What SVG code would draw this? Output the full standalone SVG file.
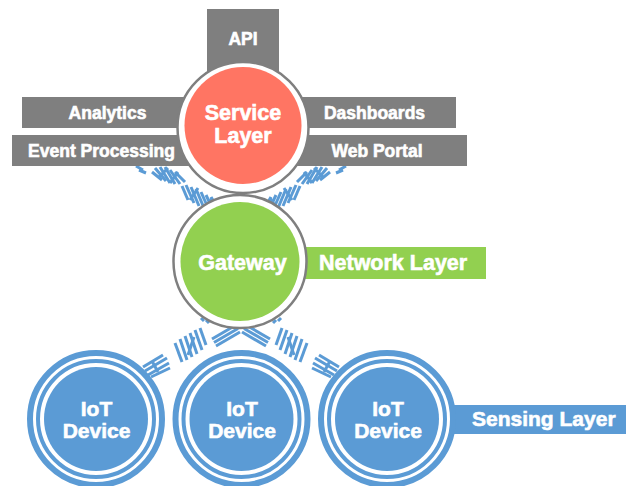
<svg xmlns="http://www.w3.org/2000/svg" width="626" height="486" viewBox="0 0 626 486">
<style>
  .t{font-family:"Liberation Sans",Arial,sans-serif;font-weight:bold;fill:#fff;stroke:#fff;stroke-width:0.6}
  .lbl{font-size:17.5px}
  .big{font-size:21.5px}
  .dev{font-size:21px}
  .box{fill:#7F7F7F}
  .ring{fill:#fff;stroke:#7F7F7F;stroke-width:2.5}
  .dOuter{fill:#fff;stroke:#5B9BD5;stroke-width:6}
  .dInner{fill:none;stroke:#5B9BD5;stroke-width:4}
  .dCore{fill:#5B9BD5}
</style>
<defs>
  <g id="hA">
    <line x1="136" y1="166" x2="143" y2="170"/>
    <line x1="139" y1="170" x2="146" y2="173"/>
    <line x1="152" y1="172" x2="162" y2="180"/>
    <line x1="155" y1="168" x2="166" y2="181"/>
    <line x1="160" y1="167" x2="170" y2="183"/>
    <line x1="165" y1="167" x2="175" y2="184"/>
    <line x1="170" y1="170" x2="180" y2="184"/>
    <line x1="175" y1="172" x2="185" y2="182"/>
    <line x1="158" y1="178" x2="168" y2="168"/>
    <line x1="170" y1="183" x2="178" y2="172"/>
    <line x1="182" y1="186" x2="188" y2="200"/>
    <line x1="186" y1="185" x2="194" y2="203"/>
    <line x1="191" y1="187" x2="199" y2="206"/>
    <line x1="196" y1="189" x2="204" y2="208"/>
    <line x1="201" y1="192" x2="209" y2="210"/>
    <line x1="206" y1="195" x2="214" y2="212"/>
    <line x1="211" y1="197" x2="219" y2="211"/>
    <line x1="190" y1="200" x2="198" y2="188"/>
    <line x1="205" y1="209" x2="212" y2="198"/>
  </g>
  <g id="hB">
    <line x1="201" y1="318" x2="204" y2="321"/>
    <line x1="206" y1="320" x2="209" y2="323"/>
    <line x1="200" y1="328" x2="206" y2="345"/>
    <line x1="195" y1="330" x2="202" y2="350"/>
    <line x1="190" y1="333" x2="197" y2="354"/>
    <line x1="185" y1="336" x2="192" y2="357"/>
    <line x1="180" y1="339" x2="187" y2="360"/>
    <line x1="175" y1="343" x2="182" y2="362"/>
    <line x1="188" y1="355" x2="194" y2="337"/>
    <line x1="143" y1="367" x2="163" y2="355"/>
    <line x1="145" y1="371" x2="167" y2="358"/>
    <line x1="148" y1="375" x2="169" y2="363"/>
    <line x1="151" y1="377" x2="170" y2="368"/>
    <line x1="152" y1="361" x2="158" y2="372"/>
    <line x1="236" y1="325" x2="212" y2="339"/>
    <line x1="238" y1="328.5" x2="214" y2="342.5"/>
    <line x1="240" y1="332" x2="216" y2="346"/>
  </g>
</defs>

<g id="connectors" stroke="#5B9BD5" stroke-width="3" fill="none">
  <use href="#hA"/>
  <use href="#hA" transform="translate(482,0) scale(-1,1)"/>
  <use href="#hB"/>
  <use href="#hB" transform="translate(482,0) scale(-1,1)"/>
</g>

<g id="api"><rect class="box" x="207" y="9" width="72" height="70"/><text class="t lbl" x="243" y="45" text-anchor="middle">API</text></g>
<g id="analytics"><rect class="box" x="22" y="97" width="220" height="31"/><text class="t lbl" x="107.5" y="119" text-anchor="middle">Analytics</text></g>
<g id="event-processing"><rect class="box" x="12" y="135" width="230" height="31"/><text class="t lbl" x="101.5" y="157" text-anchor="middle">Event Processing</text></g>
<g id="dashboards"><rect class="box" x="243" y="97" width="213" height="31"/><text class="t lbl" x="374.5" y="119" text-anchor="middle">Dashboards</text></g>
<g id="web-portal"><rect class="box" x="243" y="135" width="224" height="31"/><text class="t lbl" x="377" y="157" text-anchor="middle">Web Portal</text></g>

<g id="service-layer">
  <circle class="ring" cx="243" cy="127.5" r="65.5"/>
  <circle cx="243" cy="125.5" r="58.5" fill="#FF7563"/>
  <text class="t big" x="243" y="120" text-anchor="middle">Service</text>
  <text class="t big" x="243" y="142.5" text-anchor="middle">Layer</text>
</g>

<g id="network-layer"><rect x="280" y="247" width="206" height="32" fill="#92D050"/><text class="t big" x="319" y="270">Network Layer</text></g>

<g id="gateway">
  <circle class="ring" cx="240" cy="261.5" r="66.5"/>
  <circle cx="240" cy="261.5" r="59.5" fill="#92D050"/>
  <text class="t big" x="242.5" y="270" text-anchor="middle">Gateway</text>
</g>

<g id="sensing-layer"><rect x="420" y="405" width="206" height="29" fill="#5B9BD5"/><text class="t dev" x="472" y="426">Sensing Layer</text></g>

<g id="device-1">
  <circle class="dOuter" cx="96" cy="419" r="66"/>
  <circle class="dInner" cx="96" cy="419" r="58"/>
  <circle class="dCore" cx="96" cy="419" r="52"/>
  <text class="t dev" x="96.5" y="416" text-anchor="middle">IoT</text>
  <text class="t dev" x="96.5" y="438" text-anchor="middle">Device</text>
</g>
<g id="device-2">
  <circle class="dOuter" cx="241.5" cy="419" r="66"/>
  <circle class="dInner" cx="241.5" cy="419" r="58"/>
  <circle class="dCore" cx="241.5" cy="419" r="52"/>
  <text class="t dev" x="242" y="416" text-anchor="middle">IoT</text>
  <text class="t dev" x="242" y="438" text-anchor="middle">Device</text>
</g>
<g id="device-3">
  <circle class="dOuter" cx="387" cy="419" r="66"/>
  <circle class="dInner" cx="387" cy="419" r="58"/>
  <circle class="dCore" cx="387" cy="419" r="52"/>
  <text class="t dev" x="388" y="416" text-anchor="middle">IoT</text>
  <text class="t dev" x="388" y="438" text-anchor="middle">Device</text>
</g>
</svg>
